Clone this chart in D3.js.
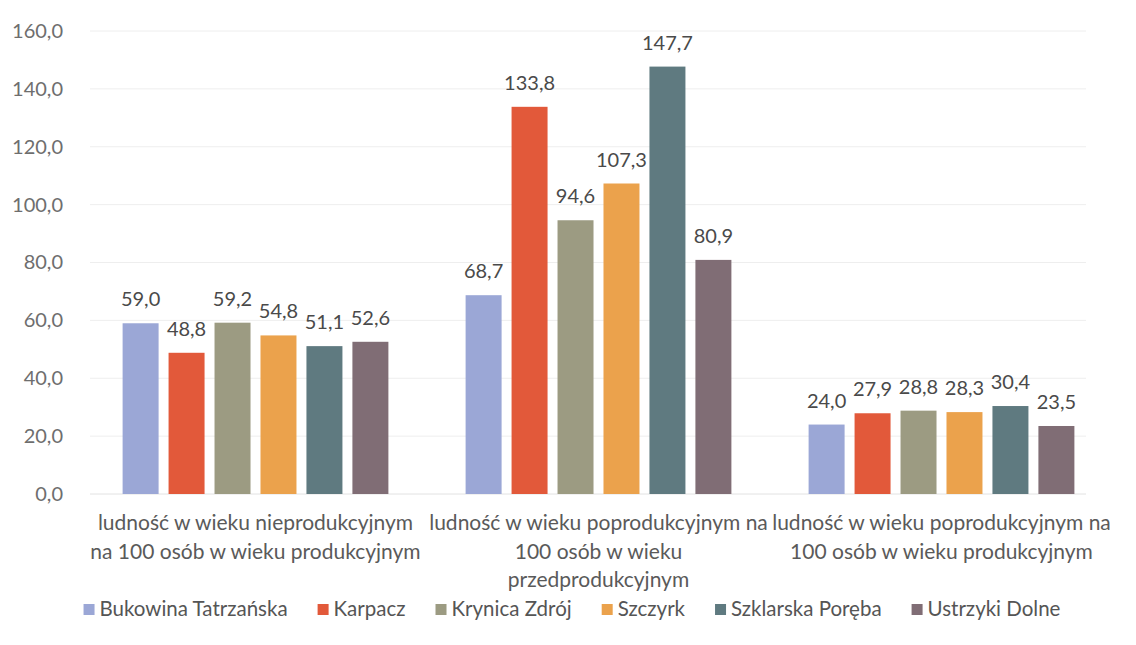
<!DOCTYPE html>
<html><head><meta charset="utf-8">
<script src="https://cdn.jsdelivr.net/npm/d3@7/dist/d3.min.js"></script>
<style>body{margin:0;background:#fff;}svg{display:block;font-family:Lato,"Open Sans",sans-serif;}</style>
</head><body>
<svg id="c" width="1136" height="645"></svg>
<script>
const categories = ["c1","c2","c3"];
const categoryLines = [
  ["ludność w wieku nieprodukcyjnym","na 100 osób w wieku produkcyjnym"],
  ["ludność w wieku poprodukcyjnym na","100 osób w wieku","przedprodukcyjnym"],
  ["ludność w wieku poprodukcyjnym na","100 osób w wieku produkcyjnym"]
];
const seriesNames = ["Bukowina Tatrzańska","Karpacz","Krynica Zdrój","Szczyrk","Szklarska Poręba","Ustrzyki Dolne"];
const seriesColors = ["#9ba7d6","#e2593a","#9c9b82","#eba24c","#5f7a80","#806d75"];
const bukowina = [59.0, 68.7, 24.0];
const karpacz = [48.8, 133.8, 27.9];
const krynica = [59.2, 94.6, 28.8];
const szczyrk = [54.8, 107.3, 28.3];
const szklarska = [51.1, 147.7, 30.4];
const ustrzyki = [52.6, 80.9, 23.5];
const seriesValues = [bukowina, karpacz, krynica, szczyrk, szklarska, ustrzyki];
const yTicks = [0,20,40,60,80,100,120,140,160];

const fmt = v => v.toFixed(1).replace(".", ",");
const svg = d3.select("#c");
const y = d3.scaleLinear().domain([0,160]).range([494,31]);
const x0 = d3.scaleBand().domain(categories).range([84,1113]).paddingInner(0);
const x1 = d3.scaleBand().domain(seriesNames).range([0, x0.bandwidth()]).paddingInner(0.217).paddingOuter(0.84);

// gridlines
svg.append("g").selectAll("line").data(yTicks).join("line")
  .attr("x1", 90).attr("x2", 1086)
  .attr("y1", d => y(d)).attr("y2", d => y(d))
  .attr("stroke", d => d === 0 ? "#e2e2e2" : "#eeeeee").attr("stroke-width", 1);

// y axis labels
const yAxis = d3.axisLeft(y).tickValues(yTicks).tickFormat(fmt).tickSize(0).tickPadding(0);
const ya = svg.append("g").attr("transform","translate(63,0)").call(yAxis);
ya.select(".domain").remove();
ya.selectAll("text").attr("font-size", 20).attr("fill", "#6e6e6e").attr("font-family","Lato");

// bars
const groups = svg.append("g").selectAll("g").data(categories).join("g")
  .attr("transform", d => `translate(${x0(d)},0)`);
seriesNames.forEach((s, si) => {
  groups.append("rect")
    .attr("x", x1(s)).attr("width", x1.bandwidth())
    .attr("y", (d,i) => y(seriesValues[si][i]))
    .attr("height", (d,i) => y(0) - y(seriesValues[si][i]))
    .attr("fill", seriesColors[si]);
  groups.append("text")
    .attr("x", x1(s) + x1.bandwidth()/2)
    .attr("y", (d,i) => y(seriesValues[si][i]) - 17)
    .attr("text-anchor","middle").attr("font-size", 20).attr("fill","#4a4a4a")
    .text((d,i) => fmt(seriesValues[si][i]));
});

// category labels
categories.forEach((c, ci) => {
  const t = svg.append("text").attr("text-anchor","middle").attr("font-size",21).attr("fill","#5a5a5a");
  categoryLines[ci].forEach((ln, li) => {
    t.append("tspan").attr("x", x0(c) + x0.bandwidth()/2).attr("y", 530 + li*28.5).text(ln);
  });
});

// legend
const leg = svg.append("g");
let lx = 0;
seriesNames.forEach((s, i) => {
  const g = leg.append("g");
  g.append("rect").attr("x", 0).attr("y", -12).attr("width", 11).attr("height", 11).attr("fill", seriesColors[i]);
  const t = g.append("text").attr("x", 16).attr("y", 0).attr("font-size", 20.5).attr("fill","#555").text(s);
  const w = 16 + t.node().getComputedTextLength();
  g.attr("transform", `translate(${lx},0)`);
  lx += w + 30;
});
const totalW = lx - 30;
leg.attr("transform", `translate(${572 - totalW/2},616)`);
</script>
</body></html>
